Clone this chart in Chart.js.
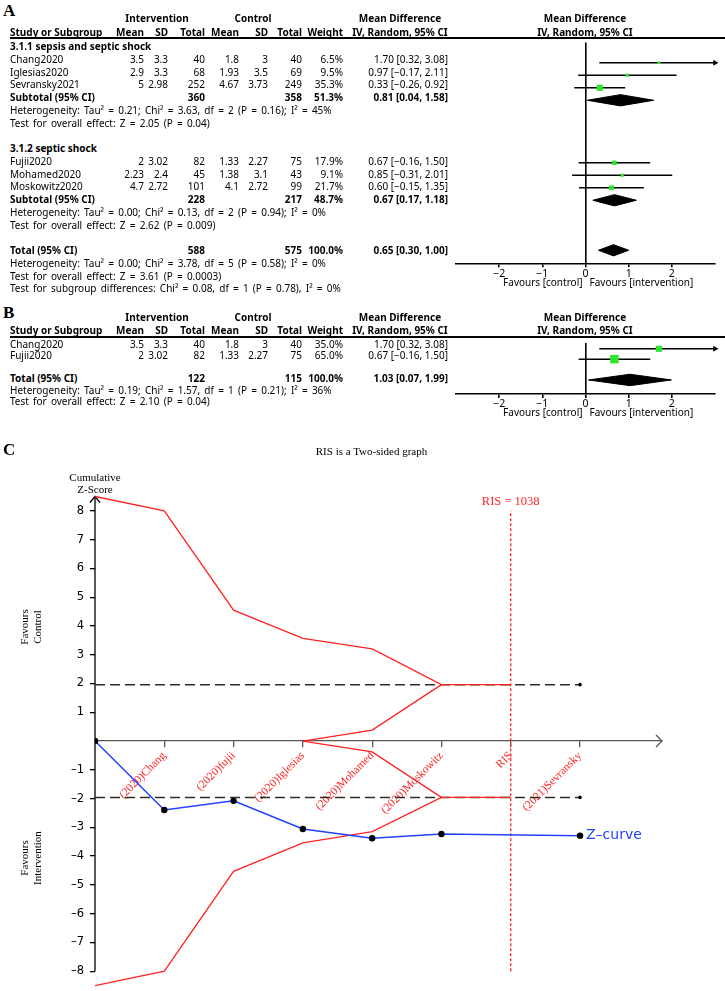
<!DOCTYPE html>
<html>
<head>
<meta charset="utf-8">
<script src="https://cdn.jsdelivr.net/npm/chart.js@4.4.1/dist/chart.umd.min.js"></script>
<style>
  body { margin: 0; background: #fff; }
  #page { position: relative; width: 725px; height: 991px; overflow: hidden; font-family: "Noto Sans", sans-serif; font-size: 10px; color: #000; }
  .t { position: absolute; white-space: nowrap; line-height: 12px; z-index: 2; }
  .b { font-weight: bold; }
  .st { word-spacing: 1.6px; }
  .serif { font-family: "Liberation Serif", serif; font-size: 11px; }
  .letter { font-family: "Liberation Serif", serif; font-weight: bold; font-size: 17px; line-height: 18px; }
  .rule { position: absolute; left: 10px; right: 0; border-top: 2px solid #000; }
  canvas { position: absolute; }
</style>
</head>
<body>
<div id="page">
  <canvas id="forestA" width="285" height="256" style="left:440px;top:38px"></canvas>
  <canvas id="forestB" width="285" height="90" style="left:440px;top:337px"></canvas>
  <canvas id="tsa" width="725" height="561" style="left:0;top:430px"></canvas>
</div>
<script>
// panel A - vitamin C studies
const studiesA = ['Chang2020', 'Iglesias2020', 'Sevransky2021', 'Fujii2020', 'Mohamed2020', 'Moskowitz2020'];
const intMeanA = [3.5, 2.9, 5, 2, 2.23, 4.7];
const intSdA = [3.3, 3.3, 2.98, 3.02, 2.4, 2.72];
const intNA = [40, 68, 252, 82, 45, 101];
const ctlMeanA = [1.8, 1.93, 4.67, 1.33, 1.38, 4.1];
const ctlSdA = [3, 3.5, 3.73, 2.27, 3.1, 2.72];
const ctlNA = [40, 69, 249, 75, 43, 99];
const weightA = [6.5, 9.5, 35.3, 17.9, 9.1, 21.7];
const mdA = [1.70, 0.97, 0.33, 0.67, 0.85, 0.60];
const loA = [0.32, -0.17, -0.26, -0.16, -0.31, -0.15];
const hiA = [3.08, 2.11, 0.92, 1.50, 2.01, 1.35];
const groupA = [0, 0, 0, 1, 1, 1];
const groupNamesA = ['3.1.1 sepsis and septic shock', '3.1.2 septic shock'];
const subMdA = [0.81, 0.67];
const subLoA = [0.04, 0.17];
const subHiA = [1.58, 1.18];
const totMdA = 0.65, totLoA = 0.30, totHiA = 1.00;
const subHetA = [
  'Heterogeneity: Tau\u00b2 = 0.21; Chi\u00b2 = 3.63, df = 2 (P = 0.16); I\u00b2 = 45%',
  'Heterogeneity: Tau\u00b2 = 0.00; Chi\u00b2 = 0.13, df = 2 (P = 0.94); I\u00b2 = 0%'
];
const subTestA = ['Test for overall effect: Z = 2.05 (P = 0.04)', 'Test for overall effect: Z = 2.62 (P = 0.009)'];
const totHetA = 'Heterogeneity: Tau\u00b2 = 0.00; Chi\u00b2 = 3.78, df = 5 (P = 0.58); I\u00b2 = 0%';
const totTestA = 'Test for overall effect: Z = 3.61 (P = 0.0003)';
const subgroupTestA = 'Test for subgroup differences: Chi\u00b2 = 0.08, df = 1 (P = 0.78), I\u00b2 = 0%';

// panel B
const studiesB = ['Chang2020', 'Fujii2020'];
const intMeanB = [3.5, 2];
const intSdB = [3.3, 3.02];
const intNB = [40, 82];
const ctlMeanB = [1.8, 1.33];
const ctlSdB = [3, 2.27];
const ctlNB = [40, 75];
const weightB = [35.0, 65.0];
const mdB = [1.70, 0.67];
const loB = [0.32, -0.16];
const hiB = [3.08, 1.50];
const totMdB = 1.03, totLoB = 0.07, totHiB = 1.99;
const totHetB = 'Heterogeneity: Tau\u00b2 = 0.19; Chi\u00b2 = 1.57, df = 1 (P = 0.21); I\u00b2 = 36%';
const totTestB = 'Test for overall effect: Z = 2.10 (P = 0.04)';

const forestTicks = [-2, -1, 0, 1, 2];
const xLim = 3;

// panel C - trial sequential analysis
const tsaLabels = ['(2020)Chang', '(2020)fujii', '(2020)Iglesias', '(2020)Mohamed', '(2020)Moskowitz', 'RIS', '(2021)Sevransky'];
const tsaTicks = [1, 2, 3, 4, 5, 6, 7];
const zX = [0, 1, 2, 3, 4, 5, 7];
const zY = [0, -2.4, -2.08, -3.06, -3.38, -3.23, -3.29];
const bX = [0, 1, 2, 3, 4, 5, 6];
const bUpper = [8.5, 8.0, 4.55, 3.57, 3.2, 1.96, 1.96];
const bLower = [-8.5, -8.0, -4.53, -3.54, -3.15, -1.96, -1.96];
const fX = [3, 4, 5];
const fUpper = [0, 0.38, 1.96];
const fLower = [0, -0.38, -1.96];
const zCrit = 1.96;
const risPos = 6;
const risValue = 1038;
const risSpan = [-8, 8];
const yTicks = [-8, -7, -6, -5, -4, -3, -2, -1, 0, 1, 2, 3, 4, 5, 6, 7, 8];

const page = document.getElementById('page');
const green = '#2ee62e';
const red = '#ff2424';
const blue = '#2240ff';
const MINUS = '\u2212';
const f2 = v => (v < 0 ? MINUS : '') + Math.abs(v).toFixed(2);
const ci = (m, l, h) => f2(m) + ' [' + f2(l) + ', ' + f2(h) + ']';
const sum = a => a.reduce((s, v) => s + v, 0);
const pts = (xs, ys) => xs.map((x, i) => ({ x: x, y: ys[i] }));

Chart.defaults.font.family = '"Noto Sans", sans-serif';

function put(txt, x, yc, align, cls) {
  const d = document.createElement('div');
  d.className = 't ' + (cls || '');
  d.textContent = txt;
  d.style.top = (yc - 6) + 'px';
  if (align === 'right') d.style.right = (725 - x) + 'px';
  else if (align === 'center') { d.style.left = (x - 150) + 'px'; d.style.width = '300px'; d.style.textAlign = 'center'; }
  else d.style.left = x + 'px';
  page.appendChild(d);
  return d;
}
function rule(y) {
  const d = document.createElement('div');
  d.className = 'rule';
  d.style.top = y + 'px';
  page.appendChild(d);
}

// table columns: right edges
const colRight = [144, 168, 205, 239, 268, 302, 343, 448];
function tableRow(y, name, vals, bold) {
  put(name, 10, y, 'left', bold ? 'b' : '');
  vals.forEach((v, i) => { if (v !== '') put(String(v), colRight[i], y, 'right', bold ? 'b' : ''); });
}
function header(y1, y2) {
  put('Intervention', 157, y1, 'center', 'b');
  put('Control', 253, y1, 'center', 'b');
  put('Mean Difference', 400, y1, 'center', 'b');
  put('Mean Difference', 585, y1, 'center', 'b');
  tableRow(y2, 'Study or Subgroup', ['Mean', 'SD', 'Total', 'Mean', 'SD', 'Total', 'Weight', ''], true);
  put('IV, Random, 95% CI', 400, y2, 'center', 'b');
  put('IV, Random, 95% CI', 585, y2, 'center', 'b');
}

// ---------- panel A text
const rowTopA = 46, rowHA = 12.75;
const rowA = k => rowTopA + rowHA * k;
put('A', 3, 8, 'left', 'letter');
header(18, 32);
rule(37);
const studyRowsA = [];
const subRowsA = [];
let k = 0;
[0, 1].forEach(g => {
  put(groupNamesA[g], 10, rowA(k), 'left', 'b');
  k++;
  const idx = studiesA.map((s, i) => i).filter(i => groupA[i] === g);
  idx.forEach(i => {
    studyRowsA.push(k);
    tableRow(rowA(k), studiesA[i], [intMeanA[i], intSdA[i], intNA[i], ctlMeanA[i], ctlSdA[i], ctlNA[i],
      weightA[i].toFixed(1) + '%', ci(mdA[i], loA[i], hiA[i])], false);
    k++;
  });
  subRowsA.push(k);
  tableRow(rowA(k), 'Subtotal (95% CI)', ['', '', sum(idx.map(i => intNA[i])), '', '', sum(idx.map(i => ctlNA[i])),
    sum(idx.map(i => weightA[i])).toFixed(1) + '%', ci(subMdA[g], subLoA[g], subHiA[g])], true);
  k++;
  put(subHetA[g], 10, rowA(k++), 'left', 'st');
  put(subTestA[g], 10, rowA(k++), 'left', 'st');
  k++;
});
const totRowA = k;
tableRow(rowA(k), 'Total (95% CI)', ['', '', sum(intNA), '', '', sum(ctlNA), sum(weightA).toFixed(1) + '%', ci(totMdA, totLoA, totHiA)], true);
put(totHetA, 10, rowA(k + 1), 'left', 'st');
put(totTestA, 10, rowA(k + 2), 'left', 'st');
put(subgroupTestA, 10, rowA(k + 3), 'left', 'st');

// ---------- panel B text
const rowTopB = 343.5, rowHB = 11.6;
const rowB = k => rowTopB + rowHB * k;
put('B', 3, 310, 'left', 'letter');
header(317, 330);
rule(336);
const studyRowsB = [0, 1];
const totRowB = 3;
studiesB.forEach((s, i) => {
  tableRow(rowB(studyRowsB[i]), s, [intMeanB[i], intSdB[i], intNB[i], ctlMeanB[i], ctlSdB[i], ctlNB[i],
    weightB[i].toFixed(1) + '%', ci(mdB[i], loB[i], hiB[i])], false);
});
tableRow(rowB(totRowB), 'Total (95% CI)', ['', '', sum(intNB), '', '', sum(ctlNB), sum(weightB).toFixed(1) + '%', ci(totMdB, totLoB, totHiB)], true);
put(totHetB, 10, 389.5, 'left', 'st');
put(totTestB, 10, 400.5, 'left', 'st');

// ---------- forest plots
const favours = {
  id: 'favours',
  afterDraw(chart) {
    const { ctx, chartArea, scales: { x } } = chart;
    const x0 = x.getPixelForValue(0), yy = chartArea.bottom + 19.5;
    ctx.save();
    ctx.font = '10px "Noto Sans"';
    ctx.fillStyle = '#000';
    ctx.textBaseline = 'middle';
    ctx.textAlign = 'right';
    ctx.fillText('Favours [control]', x0 - 3, yy);
    ctx.textAlign = 'left';
    ctx.fillText('Favours [intervention]', x0 + 4, yy);
    ctx.restore();
  }
};

function forest(id, rows, md, lo, hi, w, dRows, dMd, dLo, dHi, kTop, kBottom, half, plotH) {
  const cv = document.getElementById(id);
  const sets = [{
    data: md.map((v, i) => ({ x: v, y: rows[i] })),
    pointStyle: 'rect',
    pointRadius: w.map(v => Math.sqrt(v) * 1.05 * Math.SQRT1_2),
    pointBackgroundColor: green,
    pointBorderWidth: 0,
    clip: false
  }];
  md.forEach((v, i) => {
    sets.push({
      type: 'line',
      data: [{ x: Math.max(lo[i], -xLim), y: rows[i] }, { x: Math.min(hi[i], xLim), y: rows[i] }],
      borderColor: '#000', borderWidth: 1.5,
      pointStyle: 'triangle', pointRotation: 90,
      pointRadius: [0, hi[i] > xLim ? 3.5 : 0],
      pointBackgroundColor: '#000', pointBorderWidth: 0,
      clip: false
    });
  });
  dMd.forEach((v, i) => {
    const r = dRows[i];
    sets.push({
      type: 'line',
      data: [{ x: dLo[i], y: r }, { x: v, y: r - half }, { x: dHi[i], y: r }, { x: v, y: r + half }, { x: dLo[i], y: r }],
      borderColor: '#000', borderWidth: 1, pointRadius: 0,
      fill: 'shape', backgroundColor: '#000'
    });
  });
  return new Chart(cv, {
    type: 'scatter',
    data: { datasets: sets },
    options: {
      responsive: false,
      animation: false,
      events: [],
      layout: { padding: { left: 16, right: 10, top: 0, bottom: 0 } },
      plugins: { legend: { display: false }, tooltip: { enabled: false } },
      scales: {
        x: {
          type: 'linear', min: -xLim, max: xLim,
          afterBuildTicks: s => { s.ticks = forestTicks.map(v => ({ value: v })); },
          afterFit: s => { s.height = cv.height - plotH; s.paddingLeft = 0; s.paddingRight = 0; },
          ticks: { color: '#000', padding: 0, font: { size: 10.5 }, callback: v => (v < 0 ? MINUS : '') + Math.abs(v) },
          grid: {
            color: c => (c.tick && c.tick.value === 0 ? '#000' : 'rgba(0,0,0,0)'),
            lineWidth: 1.6, tickColor: '#000', tickLength: 4
          },
          border: { color: '#000', width: 1.6 }
        },
        y: { type: 'linear', display: false, reverse: true, min: kTop, max: kBottom }
      }
    },
    plugins: [favours]
  });
}

forest('forestA', studyRowsA, mdA, loA, hiA, weightA,
  subRowsA.concat([totRowA]), subMdA.concat([totMdA]), subLoA.concat([totLoA]), subHiA.concat([totHiA]),
  (38 - rowTopA) / rowHA, (263.3 - rowTopA) / rowHA, 0.45, 263.3 - 38);

forest('forestB', studyRowsB, mdB, loB, hiB, weightB,
  [totRowB], [totMdB], [totLoB], [totHiB],
  (337 - rowTopB) / rowHB, (394 - rowTopB) / rowHB, 0.55, 394 - 337);

// ---------- panel C text
put('C', 3, 447, 'left', 'letter');
put('RIS is a Two-sided graph', 371.5, 451, 'center', 'serif');
put('Cumulative', 95, 477, 'center', 'serif');
put('Z-Score', 95, 489, 'center', 'serif');
function vlabel(lines, cx, cy) {
  const d = document.createElement('div');
  d.className = 't serif';
  d.style.left = (cx - 60) + 'px';
  d.style.top = (cy - 13) + 'px';
  d.style.width = '120px';
  d.style.height = '26px';
  d.style.lineHeight = '13px';
  d.style.textAlign = 'center';
  d.style.transform = 'rotate(-90deg)';
  d.innerHTML = lines.join('<br>');
  page.appendChild(d);
}
vlabel(['Favours', 'Control'], 30.5, 627);
vlabel(['Favours', 'Intervention'], 30.5, 858);

const tsaDecor = {
  id: 'tsaDecor',
  beforeDatasetsDraw(chart) {
    const { ctx, scales: { x, y } } = chart;
    const x0 = x.getPixelForValue(0);
    const yTop = y.getPixelForValue(8.5);
    const y0 = y.getPixelForValue(0);
    ctx.save();
    ctx.strokeStyle = '#000';
    ctx.lineWidth = 1.3;
    ctx.beginPath();
    ctx.moveTo(x0, y.getPixelForValue(yTicks[0]));
    ctx.lineTo(x0, yTop);
    ctx.stroke();
    ctx.beginPath();
    ctx.moveTo(x0 - 5, yTop + 6); ctx.lineTo(x0, yTop); ctx.lineTo(x0 + 5, yTop + 6);
    ctx.stroke();
    ctx.strokeStyle = '#555';
    ctx.beginPath();
    ctx.moveTo(x.right - 6, y0 - 6); ctx.lineTo(x.right, y0); ctx.lineTo(x.right - 6, y0 + 6);
    ctx.stroke();
    ctx.restore();
  },
  afterDatasetsDraw(chart) {
    const { ctx, scales: { x, y } } = chart;
    ctx.save();
    ctx.textBaseline = 'middle';
    ctx.fillStyle = red;
    ctx.font = '12.5px "Liberation Serif"';
    ctx.textAlign = 'center';
    ctx.fillText('RIS = ' + risValue, x.getPixelForValue(risPos), y.getPixelForValue(risSpan[1]) - 9);
    ctx.fillStyle = blue;
    ctx.font = '14px "DejaVu Sans"';
    ctx.textAlign = 'left';
    ctx.fillText('Z\u2013curve', x.getPixelForValue(zX[zX.length - 1]) + 6, y.getPixelForValue(zY[zY.length - 1]));
    ctx.restore();
  }
};

const zEnd = zX[zX.length - 1];
new Chart(document.getElementById('tsa'), {
  type: 'scatter',
  data: {
    datasets: [
      { data: pts(zX, zY), showLine: true, borderColor: blue, borderWidth: 1.5, pointRadius: 3.2, pointBackgroundColor: '#000', pointBorderWidth: 0 },
      { data: pts(bX, bUpper), showLine: true, borderColor: red, borderWidth: 1.3, pointRadius: 0 },
      { data: pts(bX, bLower), showLine: true, borderColor: red, borderWidth: 1.3, pointRadius: 0 },
      { data: pts(fX, fUpper), showLine: true, borderColor: red, borderWidth: 1.3, pointRadius: 0 },
      { data: pts(fX, fLower), showLine: true, borderColor: red, borderWidth: 1.3, pointRadius: 0 },
      { data: [{ x: zX[0], y: zCrit }, { x: zEnd, y: zCrit }], showLine: true, borderColor: '#2e2e22', borderWidth: 1.5, borderDash: [10, 5], pointRadius: [0, 1.8], pointBackgroundColor: '#000', pointBorderWidth: 0 },
      { data: [{ x: zX[0], y: -zCrit }, { x: zEnd, y: -zCrit }], showLine: true, borderColor: '#2e2e22', borderWidth: 1.5, borderDash: [10, 5], pointRadius: [0, 1.8], pointBackgroundColor: '#000', pointBorderWidth: 0 },
      { data: [{ x: risPos, y: risSpan[0] }, { x: risPos, y: risSpan[1] }], showLine: true, borderColor: red, borderWidth: 1.3, borderDash: [3, 2], pointRadius: 0 }
    ]
  },
  options: {
    responsive: false,
    animation: false,
    events: [],
    layout: { padding: { top: 63.6, right: 63, bottom: 0.7, left: 0 } },
    plugins: { legend: { display: false }, tooltip: { enabled: false } },
    scales: {
      x: {
        type: 'linear', min: 0, max: 8.183, position: { y: 0 },
        afterBuildTicks: s => { s.ticks = tsaTicks.map(v => ({ value: v })); },
        afterFit: s => { s.paddingLeft = 0; s.paddingRight = 0; },
        ticks: {
          autoSkip: false, minRotation: 45, maxRotation: 45, padding: 2, color: red,
          font: { family: '"Liberation Serif", serif', size: 11.5 },
          callback: (v, i) => tsaLabels[i]
        },
        grid: { drawOnChartArea: false, tickLength: 6, color: '#555', lineWidth: 1.3 },
        border: { color: '#555', width: 1.3 }
      },
      y: {
        type: 'linear', min: -8.55, max: 8.6,
        afterBuildTicks: s => { s.ticks = yTicks.map(v => ({ value: v })); },
        afterFit: s => { s.width = 95; s.paddingTop = 0; s.paddingBottom = 0; },
        ticks: {
          padding: 6, color: '#000',
          font: { family: '"DejaVu Sans", sans-serif', size: 11.5 },
          callback: v => (v === 0 ? '' : (v < 0 ? '\u2013' : '') + Math.abs(v))
        },
        grid: { drawOnChartArea: false, tickLength: 5, color: c => (c.tick && c.tick.value === 0 ? 'rgba(0,0,0,0)' : '#000'), lineWidth: 1.3 },
        border: { display: false }
      }
    }
  },
  plugins: [tsaDecor]
});
</script>
</body>
</html>
